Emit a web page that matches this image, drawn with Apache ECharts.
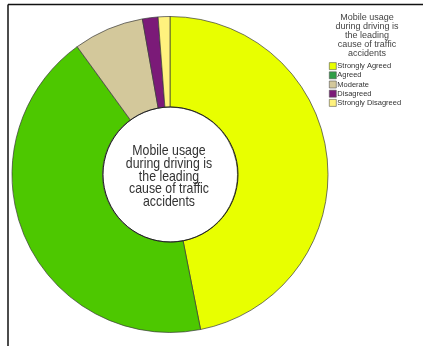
<!DOCTYPE html>
<html>
<head>
<meta charset="utf-8">
<script src="https://cdn.jsdelivr.net/npm/echarts@6/dist/echarts.min.js"></script>
<style>
  html, body { margin: 0; padding: 0; background: #fff; }
  #chart { width: 423px; height: 346px; }
</style>
</head>
<body>
<div id="chart"></div>
<script>
// values (share of answers, in %)
var categories = ['Strongly Agreed', 'Agreed', 'Moderate', 'Disagreed', 'Strongly Disagreed'];
var values = [46.9, 43.1, 7.2, 1.6, 1.2];
var sliceColors = ['#e8ff00', '#4dc800', '#d3c89b', '#7b1a78', '#fff27e'];
var legendColors = ['#e8ff00', '#2f9e46', '#d3c89b', '#7b1a78', '#fff27e'];
var chartTitle = 'Mobile usage\nduring driving is\nthe leading\ncause of traffic\naccidents';

var chart = echarts.init(document.getElementById('chart'));

chart.setOption({
  backgroundColor: '#fff',
  animation: false,
  title: {
    text: chartTitle,
    left: 362,
    top: 8,
    textAlign: 'center',
    textStyle: {
      fontFamily: 'Liberation Sans',
      fontSize: 9,
      fontWeight: 'normal',
      color: '#444',
      lineHeight: 9,
      align: 'center'
    }
  },
  legend: {
    orient: 'vertical',
    left: 324,
    top: 57,
    itemWidth: 7,
    itemHeight: 7,
    itemGap: 1,
    icon: 'rect',
    selectedMode: false,
    textStyle: {
      fontFamily: 'Liberation Sans',
      fontSize: 7.5,
      lineHeight: 8.2,
      color: '#333',
      padding: [0, 0, 0, -4]
    },
    data: categories.map(function (c, i) {
      return {
        name: c,
        itemStyle: { color: legendColors[i], borderColor: '#555', borderWidth: 0.6 }
      };
    })
  },
  graphic: [
    {
      type: 'line',
      shape: { x1: 8, y1: 4.5, x2: 423, y2: 4.5 },
      style: { stroke: '#111', lineWidth: 1.5 }
    },
    {
      type: 'line',
      shape: { x1: 8, y1: 4.5, x2: 8, y2: 346 },
      style: { stroke: '#111', lineWidth: 1.5 }
    },
    {
      type: 'circle',
      shape: { cx: 170.5, cy: 174.5, r: 67.5 },
      style: { fill: 'none', stroke: '#222', lineWidth: 1 },
      z: 10
    },
    {
      // centre caption, slightly condensed like the original
      type: 'text',
      x: 169,
      y: 176.5,
      scaleX: 0.85,
      z: 11,
      style: {
        text: chartTitle,
        fontFamily: 'Liberation Sans',
        fontSize: 14.5,
        lineHeight: 12.6,
        fill: '#333',
        align: 'center',
        verticalAlign: 'middle'
      }
    }
  ],
  series: [
    {
      type: 'pie',
      center: [170, 174.5],
      radius: [67.5, 158],
      startAngle: 90,
      clockwise: true,
      label: { show: false },
      labelLine: { show: false },
      emphasis: { disabled: true },
      itemStyle: {
        borderColor: '#3a3a3a',
        borderWidth: 0.7
      },
      data: categories.map(function (c, i) {
        return { name: c, value: values[i], itemStyle: { color: sliceColors[i] } };
      })
    }
  ]
});
</script>
</body>
</html>
